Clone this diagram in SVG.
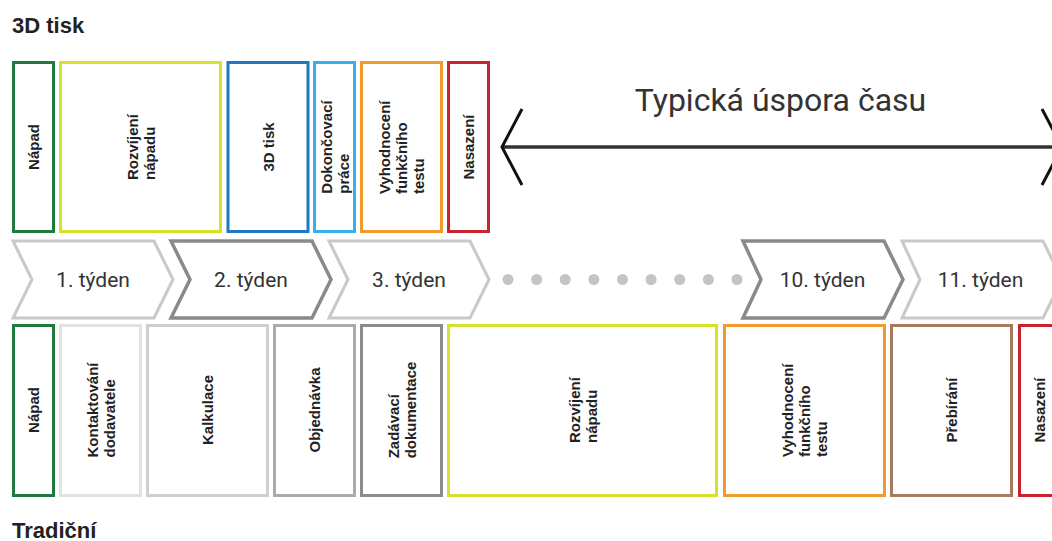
<svg xmlns="http://www.w3.org/2000/svg" width="1052" height="541" viewBox="0 0 1052 541">
<style>
.bx{fill:#fff;stroke-width:3}
.lb{font-family:"Liberation Sans",Arial,sans-serif;font-weight:bold;font-size:15px;fill:#222}
.ttl{font-family:"Liberation Sans",Arial,sans-serif;font-weight:bold;font-size:22px;fill:#222}
.ch{fill:#fff;stroke-linejoin:miter}
.chl{stroke:#c9c9c9;stroke-width:3}
.chd{stroke:#8a8a8a;stroke-width:3.5}
.wk{font-family:Roboto,"Liberation Sans",sans-serif;font-size:21px;fill:#333;text-anchor:middle}
.dot{fill:#c4c4c4}
.mid{text-anchor:middle}
.green{stroke:#1f7a3e}.lime{stroke:#d6e12c}.blue{stroke:#1f78c6}.lblue{stroke:#38b0e6}.orange{stroke:#f29a2e}.red{stroke:#c8232f}.brown{stroke:#a97b5d}
.g1{stroke:#e2e2e2}.g2{stroke:#cfcfcf}.g3{stroke:#ababab}.g4{stroke:#8c8c8c}
</style>
<text class="ttl" x="12" y="33">3D tisk</text>
<text class="ttl" x="12" y="538">Tradiční</text>

<g id="top-napad"><rect class="bx green" x="13.5" y="62.5" width="40" height="169"/>
<text class="lb mid" transform="translate(33.5,147) rotate(-90)" x="0" y="5.5">Nápad</text></g>
<g id="top-rozvijeni"><rect class="bx lime" x="60.5" y="62.5" width="160" height="169"/>
<text class="lb" transform="translate(140.5,147) rotate(-90)"><tspan x="-33" y="-3">Rozvíjení</tspan><tspan x="-33" y="14">nápadu</tspan></text></g>
<g id="top-3dtisk"><rect class="bx blue" x="228" y="62.5" width="80" height="169"/>
<text class="lb mid" transform="translate(268,147) rotate(-90)" x="0" y="5.5">3D tisk</text></g>
<g id="top-dokoncovaci"><rect class="bx lblue" x="314.5" y="62.5" width="40" height="169"/>
<text class="lb" transform="translate(334.5,147) rotate(-90)"><tspan x="-46.7" y="-3">Dokončovací</tspan><tspan x="-46.7" y="14">práce</tspan></text></g>
<g id="top-vyhodnoceni"><rect class="bx orange" x="361.5" y="62.5" width="80" height="169"/>
<text class="lb" transform="translate(401.5,147) rotate(-90)"><tspan x="-47.1" y="-11.5">Vyhodnocení</tspan><tspan x="-47.1" y="5.5">funkčního</tspan><tspan x="-47.1" y="22.5">testu</tspan></text></g>
<g id="top-nasazeni"><rect class="bx red" x="448.5" y="62.5" width="40" height="169"/>
<text class="lb mid" transform="translate(468.5,147) rotate(-90)" x="0" y="5.5">Nasazení</text></g>

<g id="saving">
<text x="780.5" y="111" style="font-family:Roboto,'Liberation Sans',sans-serif;font-size:32px;fill:#333;text-anchor:middle">Typická úspora času</text>
</g>

<g id="connectors">
<line x1="502" y1="147" x2="1062" y2="147" stroke="#333" stroke-width="3.5"/>
<polyline points="522,109 502,147 522,185" fill="none" stroke="#111" stroke-width="3"/>
<polyline points="1042,109 1062,147 1042,185" fill="none" stroke="#111" stroke-width="3"/>
</g>

<g id="week1"><path class="ch chl" d="M13,241 L154,241 L173,279.5 L154,318 L13,318 L32,279.5 Z"/><text class="wk" x="93" y="286.5">1. týden</text></g>
<g id="week2"><path class="ch chd" d="M171,241 L312,241 L331,279.5 L312,318 L171,318 L190,279.5 Z"/><text class="wk" x="251" y="286.5">2. týden</text></g>
<g id="week3"><path class="ch chl" d="M329,241 L470,241 L489,279.5 L470,318 L329,318 L348,279.5 Z"/><text class="wk" x="409" y="286.5">3. týden</text></g>
<g id="dots">
<circle class="dot" cx="508" cy="279.5" r="5.5"/><circle class="dot" cx="536.6" cy="279.5" r="5.5"/><circle class="dot" cx="565.2" cy="279.5" r="5.5"/><circle class="dot" cx="593.9" cy="279.5" r="5.5"/><circle class="dot" cx="622.5" cy="279.5" r="5.5"/><circle class="dot" cx="651.1" cy="279.5" r="5.5"/><circle class="dot" cx="679.7" cy="279.5" r="5.5"/><circle class="dot" cx="708.4" cy="279.5" r="5.5"/><circle class="dot" cx="737" cy="279.5" r="5.5"/>
</g>
<g id="week10"><path class="ch chd" d="M743,241 L884,241 L903,279.5 L884,318 L743,318 L761,279.5 Z"/><text class="wk" x="822.5" y="286.5">10. týden</text></g>
<g id="week11"><path class="ch chl" d="M902,241 L1043,241 L1062,279.5 L1043,318 L902,318 L920,279.5 Z"/><text class="wk" x="980.5" y="286.5">11. týden</text></g>

<g id="bot-napad"><rect class="bx green" x="13.5" y="325.5" width="40" height="170"/>
<text class="lb mid" transform="translate(33.5,410) rotate(-90)" x="0" y="5.5">Nápad</text></g>
<g id="bot-kontaktovani"><rect class="bx g1" x="60.5" y="325.5" width="80" height="170"/>
<text class="lb" transform="translate(100.5,410) rotate(-90)"><tspan x="-47.5" y="-3">Kontaktování</tspan><tspan x="-47.5" y="14">dodavatele</tspan></text></g>
<g id="bot-kalkulace"><rect class="bx g2" x="147.5" y="325.5" width="120" height="170"/>
<text class="lb mid" transform="translate(207.5,410) rotate(-90)" x="0" y="5.5">Kalkulace</text></g>
<g id="bot-objednavka"><rect class="bx g3" x="274.5" y="325.5" width="80" height="170"/>
<text class="lb mid" transform="translate(314.5,410) rotate(-90)" x="0" y="5.5">Objednávka</text></g>
<g id="bot-zadavaci"><rect class="bx g4" x="361.5" y="325.5" width="80" height="170"/>
<text class="lb" transform="translate(401.5,410) rotate(-90)"><tspan x="-48.3" y="-3">Zadávací</tspan><tspan x="-48.3" y="14">dokumentace</tspan></text></g>
<g id="bot-rozvijeni"><rect class="bx lime" x="448.5" y="325.5" width="268" height="170"/>
<text class="lb" transform="translate(582.5,410) rotate(-90)"><tspan x="-33" y="-3">Rozvíjení</tspan><tspan x="-33" y="14">nápadu</tspan></text></g>
<g id="bot-vyhodnoceni"><rect class="bx orange" x="724.5" y="325.5" width="160" height="170"/>
<text class="lb" transform="translate(804.5,410) rotate(-90)"><tspan x="-47.1" y="-11.5">Vyhodnocení</tspan><tspan x="-47.1" y="5.5">funkčního</tspan><tspan x="-47.1" y="22.5">testu</tspan></text></g>
<g id="bot-prebirani"><rect class="bx brown" x="891.5" y="325.5" width="120" height="170"/>
<text class="lb mid" transform="translate(951.5,410) rotate(-90)" x="0" y="5.5">Přebírání</text></g>
<g id="bot-nasazeni"><rect class="bx red" x="1019.5" y="325.5" width="40" height="170"/>
<text class="lb mid" transform="translate(1039.5,410) rotate(-90)" x="0" y="5.5">Nasazení</text></g>
</svg>
